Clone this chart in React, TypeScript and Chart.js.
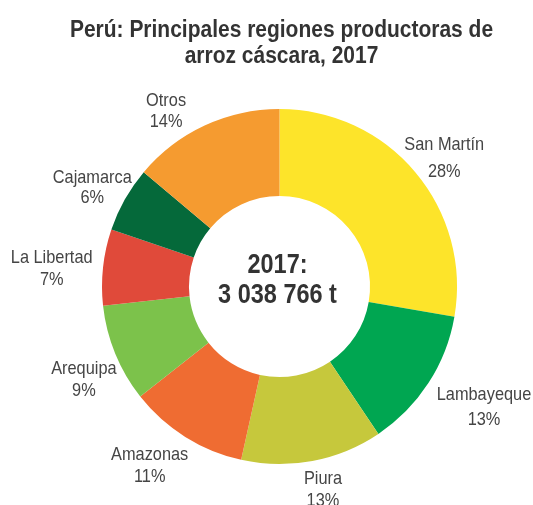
import React, { useEffect, useRef } from "react";
import { Chart, registerables } from "chart.js";

Chart.register(...registerables);

const titleLines = ["Perú: Principales regiones productoras de", "arroz cáscara, 2017"];
const regions = ["San Martín", "Lambayeque", "Piura", "Amazonas", "Arequipa", "La Libertad", "Cajamarca", "Otros"];
const shares = [28, 13, 13, 11, 9, 7, 6, 14];
const colors = ["#FDE42A", "#00A651", "#C6C83C", "#EF6C32", "#7CC24B", "#E04A3A", "#05693A", "#F59B30"];
const centerLines = ["2017:", "3 038 766 t"];

// label placement: distance beyond the outer radius, angular nudge (deg), line spacing
const labelLayout = [
  { push: 31, turn: 2.3, lh: 27 },
  { push: 60, turn: -2.4, lh: 25.5 },
  { push: 30, turn: -1.4, lh: 22 },
  { push: 44, turn: 3.8, lh: 22 },
  { push: 39, turn: -3.1, lh: 22 },
  { push: 51, turn: -1.8, lh: 22 },
  { push: 34, turn: -1.7, lh: 20 },
  { push: 31, turn: -8.0, lh: 21 },
];

const FONT = "'Liberation Sans', Arial, sans-serif";

function drawNarrow(ctx: CanvasRenderingContext2D, text: string, x: number, y: number, sx: number) {
  ctx.save();
  ctx.translate(x, y);
  ctx.scale(sx, 1);
  ctx.fillText(text, 0, 0);
  ctx.restore();
}

const textPlugin = {
  id: "textPlugin",
  afterDatasetsDraw(chart: any) {
    const ctx = chart.ctx as CanvasRenderingContext2D;
    const meta = chart.getDatasetMeta(0);
    ctx.save();
    // title
    ctx.fillStyle = "#333333";
    ctx.textAlign = "center";
    ctx.textBaseline = "alphabetic";
    ctx.font = `bold 23px ${FONT}`;
    titleLines.forEach((t, k) => drawNarrow(ctx, t, 281.5, 37 + k * 26, 0.912));

    // slice labels
    ctx.font = `19px ${FONT}`;
    ctx.fillStyle = "#454545";
    ctx.textBaseline = "middle";
    meta.data.forEach((arc: any, i: number) => {
      const p = arc.getProps(["x", "y", "startAngle", "endAngle", "outerRadius"], true);
      const L = labelLayout[i];
      const mid = (p.startAngle + p.endAngle) / 2 + (L.turn * Math.PI) / 180;
      const lines = [regions[i], shares[i] + "%"];
      const r = p.outerRadius + L.push;
      const cx = p.x + Math.cos(mid) * r;
      const cy = p.y + Math.sin(mid) * r;
      lines.forEach((l, k) => drawNarrow(ctx, l, cx, cy + (k - (lines.length - 1) / 2) * L.lh, 0.86));
    });

    // center text
    const a0 = meta.data[0];
    ctx.font = `bold 27px ${FONT}`;
    ctx.fillStyle = "#333333";
    ctx.textBaseline = "alphabetic";
    drawNarrow(ctx, centerLines[0], a0.x - 2, a0.y - 13.5, 0.87);
    drawNarrow(ctx, centerLines[1], a0.x - 2, a0.y + 16.5, 0.87);
    ctx.restore();
  },
};

export default function App() {
  const ref = useRef<HTMLCanvasElement | null>(null);
  useEffect(() => {
    if (!ref.current) return;
    const chart = new Chart(ref.current, {
      type: "doughnut",
      data: {
        labels: regions,
        datasets: [
          {
            data: shares,
            backgroundColor: colors,
            borderWidth: 0,
          },
        ],
      },
      options: {
        responsive: false,
        animation: false,
        cutout: "51%",
        layout: { padding: { left: 102, right: 76, top: 109, bottom: 41 } },
        plugins: {
          legend: { display: false },
          tooltip: { enabled: false },
          title: { display: false },
        },
      },
      plugins: [textPlugin],
    });
    return () => chart.destroy();
  }, []);
  return (
    <canvas
      ref={ref}
      width={533}
      height={505}
      style={{ position: "absolute", left: 0, top: 0, width: 533, height: 505, display: "block", background: "#fff" }}
    />
  );
}
